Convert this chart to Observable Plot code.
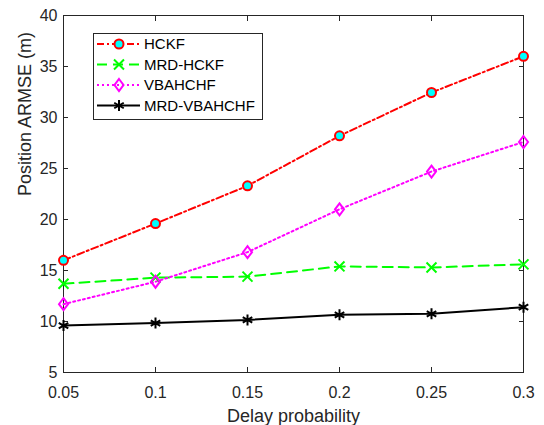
<!DOCTYPE html>
<html><head><meta charset="utf-8">
<script src="https://cdn.jsdelivr.net/npm/d3@7"></script>
<script src="https://cdn.jsdelivr.net/npm/@observablehq/plot@0.6"></script>
<style>
body{margin:0;background:#fff;font-family:"Liberation Sans",Arial,sans-serif;}
#wrap{position:relative;width:544px;height:425px;overflow:hidden;}
#legend{position:absolute;left:0;top:0;}
</style></head><body><div id="wrap"></div>
<script>
// ---- data ----
const delay = [0.05, 0.1, 0.15, 0.2, 0.25, 0.3];
const xTickLabels = ["0.05", "0.1", "0.15", "0.2", "0.25", "0.3"];
const yTicks = [5, 10, 15, 20, 25, 30, 35, 40];
const hckf = [16.0, 19.6, 23.3, 28.2, 32.45, 36.0];
const mrdHckf = [13.7, 14.3, 14.4, 15.4, 15.3, 15.6];
const vbahchf = [11.7, 13.9, 16.8, 21.0, 24.7, 27.6];
const mrdVbahchf = [9.6, 9.85, 10.15, 10.65, 10.75, 11.4];
const seriesNames = ["HCKF", "MRD-HCKF", "VBAHCHF", "MRD-VBAHCHF"];
const xLabel = "Delay probability";
const yLabel = "Position ARMSE (m)";

// tall open diamond (MATLAB style)
const tallDiamond = {
  draw(context, size) {
    const r = Math.sqrt(size / Math.PI);
    const hw = r * 0.75, hh = r;
    context.moveTo(0, -hh);
    context.lineTo(hw, 0);
    context.lineTo(0, hh);
    context.lineTo(-hw, 0);
    context.closePath();
  }
};

// ---- styles ----
const styles = {
  "HCKF":        {stroke: "#ff0000", dash: "7,3,2,3", symbol: d3.symbolCircle, fill: "#00ffff", r: 4.5, sw: 2},
  "MRD-HCKF":    {stroke: "#00ff00", dash: "10,6", symbol: d3.symbolTimes, fill: "none", r: 4.6, sw: 2},
  "VBAHCHF":     {stroke: "#ff00ff", dash: "2,3", symbol: tallDiamond, fill: "none", r: 6, sw: 2},
  "MRD-VBAHCHF": {stroke: "#000000", dash: null, symbol: d3.symbolAsterisk, fill: "none", r: 5.2, sw: 2}
};
const seriesValues = [hckf, mrdHckf, vbahchf, mrdVbahchf];
const rows = [];
seriesNames.forEach((name, s) => delay.forEach((x, i) => rows.push({series: name, x, y: seriesValues[s][i]})));

const axisColor = "#262626";
const marks = [];
seriesNames.forEach(name => {
  const st = styles[name];
  const data = rows.filter(d => d.series === name);
  marks.push(Plot.line(data, {x: "x", y: "y", stroke: st.stroke, strokeWidth: st.sw, strokeDasharray: st.dash}));
});
seriesNames.forEach(name => {
  const st = styles[name];
  const data = rows.filter(d => d.series === name);
  marks.push(Plot.dot(data, {x: "x", y: "y", symbol: st.symbol, r: st.r, stroke: st.stroke, fill: st.fill, strokeWidth: 2}));
});

const chart = Plot.plot({
  width: 544, height: 425,
  marginLeft: 63, marginRight: 21, marginTop: 15, marginBottom: 53,
  style: {fontFamily: '"Liberation Sans", Arial, sans-serif', color: axisColor, background: "#fff"},
  x: {domain: [0.05, 0.3]},
  y: {domain: [5, 40]},
  marks: [
    Plot.frame({stroke: axisColor, strokeWidth: 1}),
    Plot.axisX({anchor: "bottom", ticks: delay, tickFormat: (d, i) => xTickLabels[i], tickSize: -5, tickPadding: 19, fontSize: 16, label: null}),
    Plot.axisX({anchor: "top", ticks: delay, tickFormat: () => "", tickSize: -5, label: null}),
    Plot.axisY({anchor: "left", ticks: yTicks, tickFormat: d => String(d), tickSize: -5, tickPadding: 11, fontSize: 16, label: null}),
    Plot.axisY({anchor: "right", ticks: yTicks, tickFormat: () => "", tickSize: -5, label: null}),
    Plot.text([xLabel], {frameAnchor: "bottom", dy: 44, fontSize: 18, lineAnchor: "middle", fill: axisColor}),
    Plot.text([yLabel], {frameAnchor: "left", dx: -38, dy: 2, rotate: -90, fontSize: 18, lineAnchor: "middle", fill: axisColor}),
    ...marks
  ]
});
const wrap = document.getElementById("wrap");
wrap.appendChild(chart);

// ---- legend ----
const lg = d3.select(wrap).append("svg").attr("id", "legend").attr("width", 544).attr("height", 425);
const box = {x: 93.5, y: 33.5, w: 169, h: 86};
lg.append("rect").attr("x", box.x).attr("y", box.y).attr("width", box.w).attr("height", box.h)
  .attr("fill", "#fff").attr("stroke", axisColor).attr("stroke-width", 1);
const rowY = [44, 64.5, 85, 105.5];
seriesNames.forEach((name, i) => {
  const st = styles[name];
  const g = lg.append("g").attr("transform", `translate(0,${rowY[i]})`);
  g.append("line").attr("x1", 97).attr("x2", 140).attr("y1", 0).attr("y2", 0)
    .attr("stroke", st.stroke).attr("stroke-width", st.sw).attr("stroke-dasharray", st.dash);
  g.append("path").attr("transform", "translate(119,0)")
    .attr("d", d3.symbol(st.symbol, Math.PI * st.r * st.r)())
    .attr("fill", st.fill).attr("stroke", st.stroke).attr("stroke-width", 2);
  g.append("text").attr("x", 144).attr("y", 0).attr("dy", "0.35em")
    .attr("font-size", 15).attr("fill", "#000").attr("font-family", '"Liberation Sans", Arial, sans-serif').text(name);
});
</script></body></html>
